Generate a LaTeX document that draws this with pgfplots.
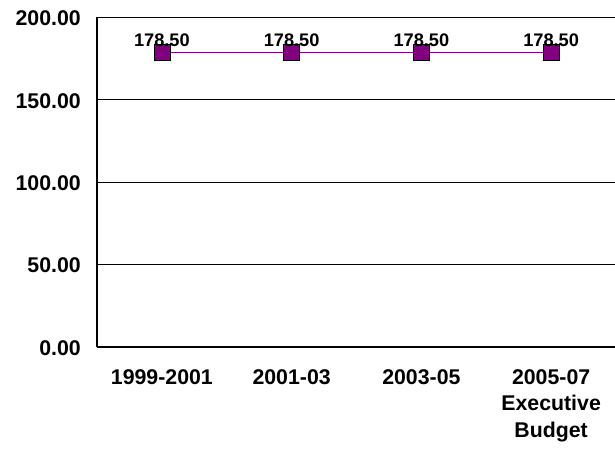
\documentclass[border=0pt]{standalone}
\usepackage{fontspec}
\setmainfont{Liberation Sans}
\usepackage{pgfplots}
\pgfplotsset{compat=1.18}
\definecolor{mypurple}{RGB}{128,0,128}
\begin{document}
\begin{tikzpicture}[x=1pt,y=1pt]
\useasboundingbox (0,0) rectangle (615,448);
\begin{axis}[
  at={(97pt,101pt)}, anchor=south west,
  scale only axis, width=519pt, height=329.7pt,
  xmin=-0.5, xmax=3.5, ymin=0, ymax=200,
  xtick={0,1,2,3},
  xticklabels={1999-2001,2001-03,2003-05,{2005-07\\Executive\\Budget}},
  ytick={0,50,100,150,200},
  axis x line*=bottom, axis y line*=left,
  ymajorgrids, grid style={black, line width=1.1pt},
  axis line style={black, line width=2.5pt},
  major tick length=0pt,
  /pgf/number format/assume math mode=true,
  tick label style={font=\fontsize{21.3}{26.7}\selectfont\bfseries},
  yticklabel style={anchor=east, inner sep=0pt, xshift=-16pt, yshift=-1pt,
    /pgf/number format/fixed, /pgf/number format/fixed zerofill, /pgf/number format/precision=2},
  xticklabel style={anchor=north, align=center, inner sep=0pt, yshift=-22pt},
  nodes near coords,
  every node near coord/.append style={font=\fontsize{18.2}{22}\selectfont\bfseries, black, anchor=base, yshift=6.5pt,
    /pgf/number format/fixed, /pgf/number format/fixed zerofill, /pgf/number format/precision=2},
  clip=false,
]
\addplot[color=mypurple, line width=1pt, mark=square*,
  mark options={draw=black, line width=0.6pt, fill=mypurple}, mark size=8pt]
  coordinates {(0,178.5) (1,178.5) (2,178.5) (3,178.5)};
\end{axis}
\end{tikzpicture}
\end{document}
